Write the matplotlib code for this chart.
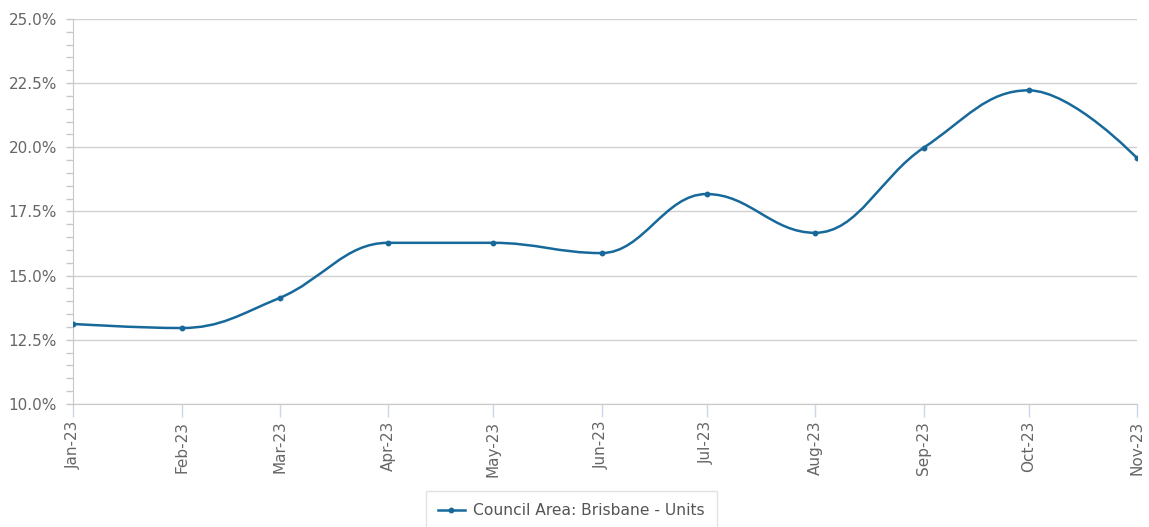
import matplotlib.pyplot as plt
import matplotlib.dates as mdates
from matplotlib.path import Path
from matplotlib.patches import PathPatch
from matplotlib.lines import Line2D
from matplotlib.ticker import FuncFormatter, MultipleLocator
import numpy as np
import pandas as pd

plt.rcParams['font.family'] = ['DejaVu Sans']

months = ['2023-01-01', '2023-02-01', '2023-03-01', '2023-04-01', '2023-05-01', '2023-06-01',
          '2023-07-01', '2023-08-01', '2023-09-01', '2023-10-01', '2023-11-01']
values = [13.12, 12.96, 14.13, 16.28, 16.28, 15.88, 18.18, 16.67, 19.98, 22.22, 19.58]
series_name = 'Council Area: Brisbane - Units'

line_color = '#16699a'
text_color = '#666666'

x = mdates.date2num(pd.to_datetime(months))
y = np.array(values)


# highcharts-style spline control points
def spline_path(x, y, smoothing=1.5):
    n = len(x)
    verts = [(x[0], y[0])]
    codes = [Path.MOVETO]
    right = [None] * n
    for i in range(1, n):
        px, py = x[i], y[i]
        lx, ly = x[i - 1], y[i - 1]
        lcx, lcy = px, py
        if i < n - 1:
            nx, ny = x[i + 1], y[i + 1]
            d = smoothing + 1
            lcx = (smoothing * px + lx) / d
            lcy = (smoothing * py + ly) / d
            rcx = (smoothing * px + nx) / d
            rcy = (smoothing * py + ny) / d
            corr = (rcy - lcy) * (rcx - px) / (rcx - lcx) + py - rcy
            lcy += corr
            rcy += corr
            if lcy > ly and lcy > py:
                lcy = max(ly, py)
                rcy = 2 * py - lcy
            elif lcy < ly and lcy < py:
                lcy = min(ly, py)
                rcy = 2 * py - lcy
            if rcy > ny and rcy > py:
                rcy = max(ny, py)
                lcy = 2 * py - rcy
            elif rcy < ny and rcy < py:
                rcy = min(ny, py)
                lcy = 2 * py - rcy
            right[i] = (rcx, rcy)
        c1 = right[i - 1] if right[i - 1] is not None else (lx, ly)
        verts += [c1, (lcx, lcy), (px, py)]
        codes += [Path.CURVE4] * 3
    return Path(verts, codes)


fig = plt.figure(figsize=(11.49, 5.27), dpi=100)
ax = fig.add_axes([73 / 1149, 1 - 404 / 527, (1137 - 73) / 1149, (404 - 19) / 527])

ax.add_patch(PathPatch(spline_path(x, y), facecolor='none', edgecolor=line_color,
                       lw=1.8, capstyle='round', joinstyle='round', zorder=3))
ax.plot(x, y, 'o', color=line_color, ms=3.2, zorder=4)

ax.set_xlim(x[0], x[-1])
ax.set_ylim(10, 25)
ax.set_xticks(x)
ax.xaxis.set_major_formatter(mdates.DateFormatter('%b-%y'))
ax.yaxis.set_major_locator(MultipleLocator(2.5))
ax.yaxis.set_minor_locator(MultipleLocator(0.5))
ax.yaxis.set_major_formatter(FuncFormatter(lambda v, p: f'{v:.1f}%'))

ax.grid(axis='y', color='#d0d0d0', lw=1)
ax.set_axisbelow(True)
for s in ['top', 'right']:
    ax.spines[s].set_visible(False)
ax.spines['left'].set_color('#c8c8c8')
ax.spines['bottom'].set_color('#c8c8c8')

ax.tick_params(axis='x', which='major', length=9, width=1, color='#ccd6eb',
               labelcolor=text_color, labelsize=11, pad=3, labelrotation=90)
ax.tick_params(axis='y', which='both', length=5, width=1, color='#c8c8c8',
               labelcolor=text_color, labelsize=11, pad=6.5)

handle = Line2D([], [], color=line_color, lw=1.8, marker='o', ms=3.2)
leg = fig.legend([handle], [series_name], loc='upper center',
                 bbox_to_anchor=(571.5 / 1149, 1 - 491 / 527), frameon=True,
                 fancybox=False, edgecolor='#dddddd', fontsize=11.2,
                 labelcolor='#555555', handlelength=1.7, handletextpad=0.55,
                 borderpad=0.8, borderaxespad=0)
leg.get_frame().set_linewidth(1)

fig.savefig('out.png', dpi=100)
